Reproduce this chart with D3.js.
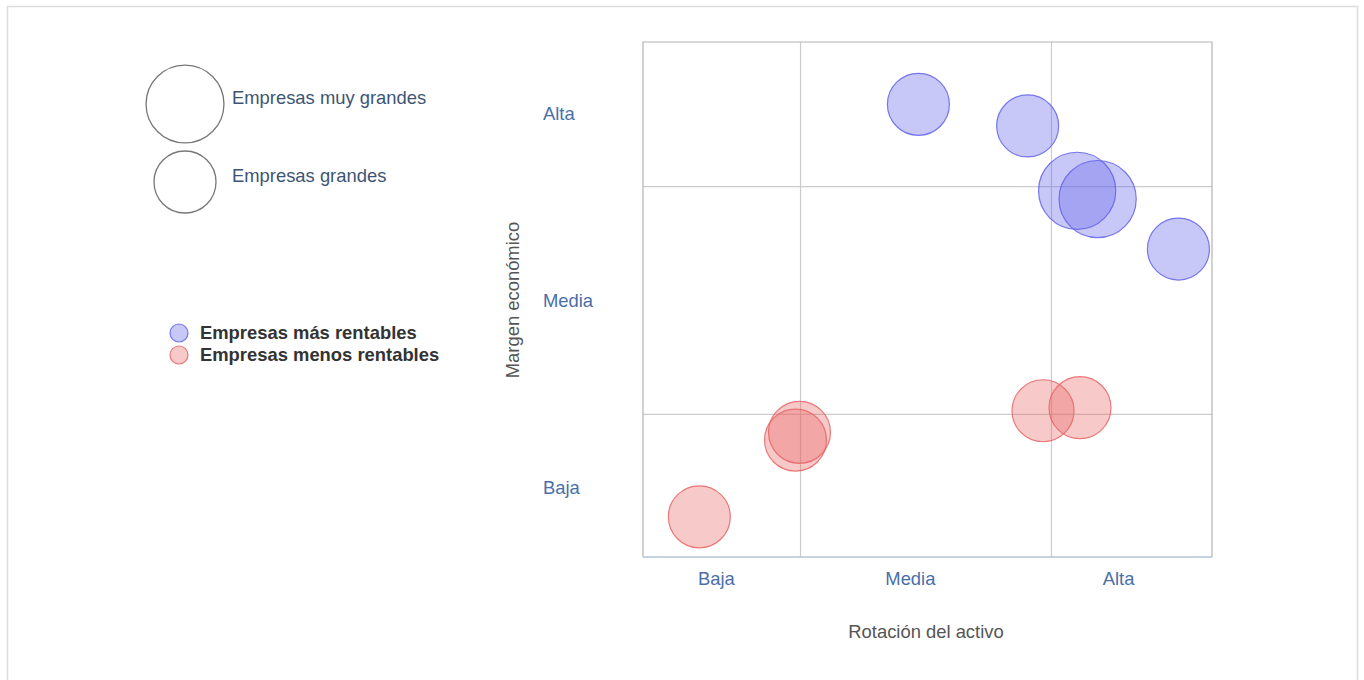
<!DOCTYPE html>
<html><head><meta charset="utf-8">
<script src="https://cdn.jsdelivr.net/npm/d3@7"></script>
<style>
html,body{margin:0;padding:0;background:#fff;}
svg{display:block;font-family:"Liberation Sans",Arial,sans-serif;}
</style></head>
<body>
<svg id="chart" width="1364" height="680"></svg>
<script>
// ---- data ----
const categories = ["Baja", "Media", "Alta"];
const xTickPos = [12.8, 46.9, 83.5];
const yTickPos = [13.6, 49.9, 86.2];
const xGrid = [27.6, 71.7];
const yGrid = [27.8, 72.0];

const masX = [48.4, 67.6, 76.3, 79.9, 94.1];
const masY = [87.9, 83.7, 71.1, 69.5, 59.8];
const masSize = [1, 1, 1.55, 1.55, 1];

const menosX = [27.5, 26.8, 70.3, 76.8, 9.9];
const menosY = [24.2, 22.7, 28.4, 29.0, 7.8];
const menosSize = [1, 1, 1, 1, 1];

const seriesNames = ["Empresas más rentables", "Empresas menos rentables"];
const sizeNames = ["Empresas muy grandes", "Empresas grandes"];
const sizeLegendValues = [1.58, 1];

const xTitle = "Rotación del activo";
const yTitle = "Margen económico";

// ---- layout ----
const svg = d3.select("#chart");
const L = 643, R = 1212, T = 42, B = 557;
const x = d3.scaleLinear().domain([0, 100]).range([L, R]);
const y = d3.scaleLinear().domain([0, 100]).range([B, T]);
const r = d3.scaleSqrt().domain([0, 1]).range([0, 31]);

const blue = "#6262eb", red = "#e86464";
const FS = 18.4;

// outer frame
svg.append("rect").attr("x", 7.5).attr("y", 6.5).attr("width", 1350).attr("height", 700)
  .attr("fill", "none").attr("stroke", "#dcdcdc").attr("stroke-width", 1.5);

// gridlines
const gx = svg.append("g").attr("transform", `translate(0,${B})`)
  .call(d3.axisBottom(x).tickValues(xGrid).tickSize(-(B - T)).tickFormat(""));
gx.select(".domain").remove();
gx.selectAll("line").attr("stroke", "#cccccc").attr("stroke-width", 1.2);
const gy = svg.append("g").attr("transform", `translate(${L},0)`)
  .call(d3.axisLeft(y).tickValues(yGrid).tickSize(-(R - L)).tickFormat(""));
gy.select(".domain").remove();
gy.selectAll("line").attr("stroke", "#cccccc").attr("stroke-width", 1.2);

// plot frame
svg.append("path").attr("d", `M${L},${B}V${T}H${R}V${B}`)
  .attr("fill", "none").attr("stroke", "#b4b4b4").attr("stroke-width", 1.2);
svg.append("line").attr("x1", L).attr("x2", R).attr("y1", B).attr("y2", B)
  .attr("stroke", "#b3c2d8").attr("stroke-width", 1.5);

// tick labels
const tickColor = "#4a6fa8";
const ax = svg.append("g").attr("transform", `translate(0,${B})`)
  .call(d3.axisBottom(x).tickValues(xTickPos).tickSize(0).tickFormat((d, i) => categories[i]));
ax.select(".domain").remove();
ax.selectAll("text").attr("y", 22).attr("dy", "0.35em")
  .attr("font-size", FS).attr("fill", tickColor).attr("font-family", "Liberation Sans, Arial, sans-serif");

const ay = svg.append("g").attr("transform", `translate(${L},0)`)
  .call(d3.axisLeft(y).tickValues(yTickPos).tickSize(0).tickFormat((d, i) => categories[i]));
ay.select(".domain").remove();
ay.selectAll("text").attr("x", 543 - L).attr("dy", "0.35em").attr("text-anchor", "start")
  .attr("font-size", FS).attr("fill", tickColor).attr("font-family", "Liberation Sans, Arial, sans-serif");

// axis titles
svg.append("text").attr("x", 926).attr("y", 632).attr("dy", "0.35em").attr("text-anchor", "middle")
  .attr("font-size", FS).attr("fill", "#555").text(xTitle);
svg.append("text").attr("transform", "translate(513,300) rotate(-90)").attr("dy", "0.35em")
  .attr("text-anchor", "middle").attr("font-size", FS).attr("fill", "#555").text(yTitle);

// bubbles
function drawSeries(xs, ys, ss, color) {
  svg.append("g").selectAll("circle").data(xs.map((d, i) => ({x: d, y: ys[i], s: ss[i]})))
    .join("circle")
    .attr("cx", d => x(d.x)).attr("cy", d => y(d.y)).attr("r", d => r(d.s))
    .attr("fill", color).attr("fill-opacity", 0.35)
    .attr("stroke", color).attr("stroke-opacity", 0.85).attr("stroke-width", 1.2);
}
drawSeries(menosX, menosY, menosSize, red);
drawSeries(masX, masY, masSize, blue);

// size legend
const sizeLegendY = [104, 182];
sizeNames.forEach((n, i) => {
  svg.append("circle").attr("cx", 185).attr("cy", sizeLegendY[i]).attr("r", r(sizeLegendValues[i]))
    .attr("fill", "none").attr("stroke", "#777").attr("stroke-width", 1.3);
  svg.append("text").attr("x", 232).attr("y", [98, 176][i]).attr("dy", "0.35em")
    .attr("font-size", FS).attr("fill", "#3d5573").text(n);
});

// color legend
const colors = [blue, red];
seriesNames.forEach((n, i) => {
  const cy = 333 + i * 22;
  svg.append("circle").attr("cx", 179).attr("cy", cy).attr("r", 9)
    .attr("fill", colors[i]).attr("fill-opacity", 0.35)
    .attr("stroke", colors[i]).attr("stroke-opacity", 0.85).attr("stroke-width", 1.2);
  svg.append("text").attr("x", 200).attr("y", cy).attr("dy", "0.35em")
    .attr("font-size", FS).attr("font-weight", "bold").attr("fill", "#333").text(n);
});
</script>
</body></html>
